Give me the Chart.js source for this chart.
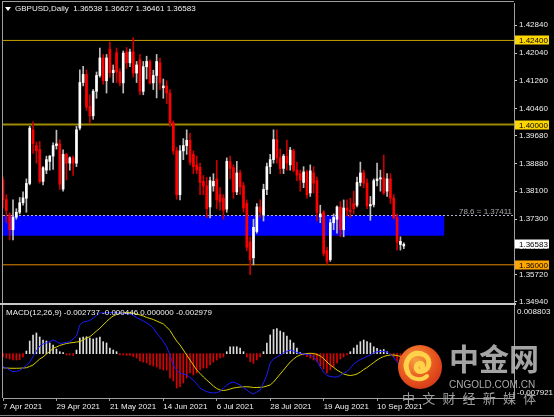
<!DOCTYPE html>
<html>
<head>
<meta charset="utf-8">
<script src="https://cdn.jsdelivr.net/npm/chart.js@4.4.1/dist/chart.umd.min.js"></script>
<style>
html,body{margin:0;padding:0;background:#000;}
#wrap{position:relative;width:554px;height:417px;overflow:hidden;background:#000}
#c{position:absolute;left:0;top:0}
.txt{position:absolute;white-space:pre;font-family:"Liberation Sans",Arial,sans-serif;font-size:8px;line-height:10px;color:#f0f0f0}
#tri{position:absolute;left:5px;top:7px;width:0;height:0;border-left:3px solid transparent;border-right:3px solid transparent;border-top:4px solid #fff}
#wm1{position:absolute;left:449px;top:337px;font-family:"Noto Sans CJK SC",sans-serif;font-weight:bold;font-size:30px;line-height:40px;color:rgba(178,178,178,0.92);white-space:pre}
#wm2{position:absolute;left:449px;top:379px;font-family:"Liberation Sans",Arial,sans-serif;font-size:10px;line-height:12px;color:rgba(185,185,185,0.92);white-space:pre}
#wm3{position:absolute;left:402px;top:390px;font-family:"Noto Sans CJK SC",sans-serif;font-size:13px;line-height:16px;letter-spacing:7.2px;color:rgba(170,170,170,0.92);white-space:pre}
#logo{position:absolute;left:396px;top:343px}
</style>
</head>
<body>
<div id="wrap">
<canvas id="c" width="554" height="417"></canvas>
<div id="tri"></div>
<div class="txt" style="left:15px;top:4px">GBPUSD,Daily  1.36538 1.36627 1.36461 1.36583</div>
<div class="txt" style="left:6px;top:308px">MACD(12,26,9) -0.002737 -0.000446 0.000000 -0.002979</div>
<svg id="logo" width="48" height="48" viewBox="0 0 48 48">
<defs><radialGradient id="g" cx="40%" cy="35%" r="70%"><stop offset="0%" stop-color="#f6a040"/><stop offset="60%" stop-color="#e8561f"/><stop offset="100%" stop-color="#d43818"/></radialGradient></defs>
<circle cx="24" cy="24" r="22" fill="url(#g)"/>
<path d="M12 30 C 6 18, 16 8, 26 11 C 35 14, 35 26, 27 28 C 21 30, 18 24, 22 21 C 25 19, 28 22, 26 24" fill="none" stroke="#ffd24a" stroke-width="5" stroke-linecap="round"/>
<path d="M12 30 C 16 37, 26 38, 31 33" fill="none" stroke="#ffd24a" stroke-width="4" stroke-linecap="round"/>
</svg>
<div id="wm1">中金网</div>
<div id="wm2">CNGOLD.COM.CN</div>
<div id="wm3">中文财经新媒体</div>
</div>
<script>
// ---------- data ----------
const dates = [
'7 Apr 2021','8 Apr 2021','9 Apr 2021','12 Apr 2021','13 Apr 2021','14 Apr 2021','15 Apr 2021','16 Apr 2021','19 Apr 2021','20 Apr 2021',
'21 Apr 2021','22 Apr 2021','23 Apr 2021','26 Apr 2021','27 Apr 2021','28 Apr 2021','29 Apr 2021','30 Apr 2021',
'3 May 2021','4 May 2021','5 May 2021','6 May 2021','7 May 2021','10 May 2021','11 May 2021','12 May 2021','13 May 2021','14 May 2021',
'17 May 2021','18 May 2021','19 May 2021','20 May 2021','21 May 2021','24 May 2021','25 May 2021','26 May 2021','27 May 2021','28 May 2021','31 May 2021',
'1 Jun 2021','2 Jun 2021','3 Jun 2021','4 Jun 2021','7 Jun 2021','8 Jun 2021','9 Jun 2021','10 Jun 2021','11 Jun 2021','14 Jun 2021','15 Jun 2021',
'16 Jun 2021','17 Jun 2021','18 Jun 2021','21 Jun 2021','22 Jun 2021','23 Jun 2021','24 Jun 2021','25 Jun 2021','28 Jun 2021','29 Jun 2021','30 Jun 2021',
'1 Jul 2021','2 Jul 2021','5 Jul 2021','6 Jul 2021','7 Jul 2021','8 Jul 2021','9 Jul 2021','12 Jul 2021','13 Jul 2021','14 Jul 2021','15 Jul 2021',
'16 Jul 2021','19 Jul 2021','20 Jul 2021','21 Jul 2021','22 Jul 2021','23 Jul 2021','26 Jul 2021','27 Jul 2021','28 Jul 2021','29 Jul 2021','30 Jul 2021',
'2 Aug 2021','3 Aug 2021','4 Aug 2021','5 Aug 2021','6 Aug 2021','9 Aug 2021','10 Aug 2021','11 Aug 2021','12 Aug 2021','13 Aug 2021','16 Aug 2021',
'17 Aug 2021','18 Aug 2021','19 Aug 2021','20 Aug 2021','23 Aug 2021','24 Aug 2021','25 Aug 2021','26 Aug 2021','27 Aug 2021','30 Aug 2021','31 Aug 2021',
'1 Sep 2021','2 Sep 2021','3 Sep 2021','6 Sep 2021','7 Sep 2021','8 Sep 2021','9 Sep 2021','10 Sep 2021','13 Sep 2021','14 Sep 2021','15 Sep 2021',
'16 Sep 2021','17 Sep 2021','20 Sep 2021','21 Sep 2021','22 Sep 2021'];

const open = [1.3842,1.3786,1.3742,1.3700,1.3736,1.3750,1.3777,1.3790,1.3832,1.3985,
1.3940,1.3929,1.3838,1.3870,1.3895,1.3910,1.3940,1.3945,1.3816,1.3915,
1.3890,1.3905,1.3890,1.3990,1.4120,1.4143,1.4052,1.4025,1.4095,1.4140,
1.4190,1.4125,1.4215,1.4148,1.4205,1.4150,1.4119,1.4207,1.4176,1.4207,
1.4147,1.4185,1.4095,1.4165,1.4179,1.4119,1.4140,1.4176,1.4105,1.4110,
1.4090,1.4005,1.3925,1.3800,1.3925,1.3940,1.3955,1.3915,1.3885,1.3878,
1.3838,1.3825,1.3765,1.3825,1.3845,1.3800,1.3790,1.3759,1.3895,1.3877,
1.3808,1.3862,1.3826,1.3775,1.3665,1.3620,1.3695,1.3765,1.3742,1.3815,
1.3880,1.3900,1.3957,1.3905,1.3875,1.3910,1.3885,1.3925,1.3870,1.3860,
1.3835,1.3865,1.3805,1.3862,1.3840,1.3737,1.3750,1.3640,1.3615,1.3720,
1.3730,1.3765,1.3700,1.3762,1.3755,1.3775,1.3770,1.3835,1.3862,1.3833,
1.3768,1.3772,1.3840,1.3845,1.3848,1.3810,1.3845,1.3790,1.3735,1.3658,
1.36538];
const high = [1.3850,1.3800,1.3748,1.3785,1.3760,1.3792,1.3808,1.3845,1.3995,1.4008,
1.3950,1.3952,1.3880,1.3910,1.3912,1.3948,1.3984,1.3957,1.3928,1.3918,
1.3908,1.3911,1.3995,1.4156,1.4166,1.4156,1.4085,1.4100,1.4150,1.4218,
1.4200,1.4200,1.4235,1.4170,1.4218,1.4160,1.4210,1.4220,1.4215,1.4248,
1.4180,1.4200,1.4180,1.4195,1.4185,1.4155,1.4200,1.4190,1.4130,1.4125,
1.4100,1.4010,1.3935,1.3940,1.3960,1.3985,1.3975,1.3925,1.3910,1.3890,
1.3855,1.3850,1.3850,1.3860,1.3898,1.3820,1.3800,1.3905,1.3910,1.3885,
1.3895,1.3870,1.3835,1.3785,1.3680,1.3730,1.3775,1.3785,1.3830,1.3890,
1.3915,1.3985,1.3985,1.3930,1.3915,1.3956,1.3935,1.3930,1.3893,1.3870,
1.3880,1.3870,1.3885,1.3880,1.3850,1.3770,1.3755,1.3650,1.3730,1.3745,
1.3768,1.3780,1.3785,1.3785,1.3790,1.3810,1.3850,1.3893,1.3870,1.3845,
1.3795,1.3845,1.3890,1.3870,1.3913,1.3860,1.3860,1.3800,1.3745,1.3680,
1.36627];
const low = [1.3762,1.3721,1.3671,1.3671,1.3730,1.3745,1.3770,1.3750,1.3828,1.3918,
1.3890,1.3833,1.3828,1.3860,1.3870,1.3872,1.3930,1.3815,1.3810,1.3842,
1.3870,1.3855,1.3880,1.3985,1.4110,1.4040,1.4005,1.4015,1.4075,1.4135,
1.4115,1.4090,1.4135,1.4120,1.4120,1.4110,1.4090,1.4160,1.4165,1.4135,
1.4120,1.4085,1.4085,1.4130,1.4115,1.4100,1.4076,1.4100,1.4075,1.4060,
1.3995,1.3915,1.3787,1.3785,1.3900,1.3915,1.3885,1.3860,1.3860,1.3800,
1.3800,1.3735,1.3734,1.3810,1.3760,1.3756,1.3730,1.3750,1.3845,1.3790,
1.3800,1.3800,1.3750,1.3640,1.3572,1.3600,1.3690,1.3735,1.3725,1.3800,
1.3860,1.3890,1.3890,1.3860,1.3860,1.3870,1.3870,1.3865,1.3840,1.3810,
1.3820,1.3790,1.3795,1.3805,1.3725,1.3720,1.3625,1.3602,1.3610,1.3700,
1.3690,1.3680,1.3680,1.3740,1.3735,1.3745,1.3765,1.3825,1.3820,1.3760,
1.3727,1.3765,1.3825,1.3810,1.3800,1.3795,1.3775,1.3730,1.3642,1.3642,
1.36461];
const close = [1.3786,1.3755,1.3700,1.3736,1.3750,1.3777,1.3791,1.3832,1.3990,1.3946,
1.3925,1.3838,1.3877,1.3900,1.3910,1.3940,1.3945,1.3830,1.3915,1.3890,
1.3905,1.3890,1.3985,1.4120,1.4143,1.4050,1.4025,1.4095,1.4140,1.4190,
1.4125,1.4190,1.4148,1.4155,1.4150,1.4120,1.4204,1.4176,1.4207,1.4147,
1.4170,1.4095,1.4165,1.4180,1.4119,1.4140,1.4180,1.4119,1.4110,1.4090,
1.4005,1.3925,1.3800,1.3925,1.3940,1.3955,1.3893,1.3880,1.3870,1.3835,
1.3825,1.3760,1.3840,1.3838,1.3785,1.3780,1.3755,1.3895,1.3875,1.3808,
1.3862,1.3822,1.3762,1.3650,1.3614,1.3707,1.3765,1.3750,1.3815,1.3880,
1.3900,1.3957,1.3905,1.3875,1.3910,1.3890,1.3927,1.3870,1.3856,1.3842,
1.3865,1.3800,1.3868,1.3833,1.3750,1.3745,1.3632,1.3610,1.3720,1.3735,
1.3765,1.3700,1.3762,1.3755,1.3752,1.3760,1.3835,1.3862,1.3833,1.3768,
1.3772,1.3840,1.3845,1.3848,1.3805,1.3845,1.3790,1.3735,1.3665,1.3667,
1.36583];

// MACD panel: histogram, blue line, yellow line
const macdHist = [-0.00059,-0.00077,-0.00095,-0.00113,-0.00113,-0.00104,-0.00059,0.00048,0.00227,0.00335,
0.00371,0.00299,0.00245,0.00227,0.00192,0.00156,0.00084,0.00036,0.00021,-0.00023,
-0.00023,-0.00032,0.00066,0.00281,0.00299,0.00304,0.00281,0.00263,0.00281,0.00299,
0.00215,0.00192,0.00102,0.00066,0.00036,-0.00023,-0.00023,-0.00032,-0.00032,-0.00054,
-0.00077,-0.00131,-0.00149,-0.00166,-0.00202,-0.00220,-0.00238,-0.00274,-0.00292,-0.00292,
-0.00435,-0.00489,-0.00614,-0.00591,-0.00524,-0.00435,-0.00345,-0.00381,-0.00345,-0.00292,
-0.00256,-0.00256,-0.00202,-0.00149,-0.00113,-0.00077,-0.00059,0.00036,0.00125,0.00125,
0.00125,0.00102,0.00036,-0.00059,-0.00143,-0.00172,-0.00113,-0.00059,0.00036,0.00192,
0.00335,0.00433,0.00451,0.00406,0.00379,0.00317,0.00245,0.00192,0.00102,0.00021,
-0.00023,-0.00054,-0.00077,-0.00113,-0.00143,-0.00220,-0.00274,-0.00345,-0.00292,-0.00238,
-0.00166,-0.00095,-0.00059,-0.00023,0.00036,0.00102,0.00156,0.00215,0.00245,0.00215,
0.00192,0.00125,0.00097,0.00066,0.00075,0.00036,-0.00005,-0.00059,-0.00131,-0.00184,
-0.00220];
const macdBlue = [-0.00233,-0.00256,-0.00292,-0.00322,-0.00318,-0.00301,-0.00256,-0.00211,-0.00149,-0.00054,
0.00048,0.00138,0.00174,0.00192,0.00218,0.00245,0.00218,0.00183,0.00192,0.00200,
0.00215,0.00263,0.00317,0.00514,0.00567,0.00576,0.00594,0.00639,0.00684,0.00729,
0.00732,0.00734,0.00734,0.00734,0.00732,0.00729,0.00723,0.00714,0.00711,0.00684,
0.00643,0.00616,0.00585,0.00550,0.00514,0.00460,0.00371,0.00299,0.00218,0.00125,
-0.00023,-0.00202,-0.00292,-0.00345,-0.00363,-0.00381,-0.00426,-0.00471,-0.00542,-0.00614,
-0.00650,-0.00680,-0.00695,-0.00703,-0.00695,-0.00677,-0.00614,-0.00560,-0.00524,-0.00507,
-0.00533,-0.00560,-0.00605,-0.00650,-0.00695,-0.00721,-0.00686,-0.00650,-0.00524,-0.00381,
-0.00166,-0.00095,-0.00059,-0.00023,0.00013,0.00039,0.00066,0.00048,0.00021,0.00007,
-0.00005,-0.00014,-0.00023,-0.00059,-0.00131,-0.00238,-0.00328,-0.00390,-0.00408,-0.00417,
-0.00417,-0.00390,-0.00345,-0.00322,-0.00256,-0.00184,-0.00140,-0.00104,-0.00077,-0.00050,
-0.00023,0.00013,0.00036,0.00039,0.00039,0.00030,-0.00014,-0.00068,-0.00149,-0.00220,
-0.00274];
const macdYellow = [-0.00251,-0.00256,-0.00260,-0.00261,-0.00261,-0.00260,-0.00256,-0.00251,-0.00229,-0.00202,
-0.00149,-0.00095,-0.00059,-0.00005,0.00039,0.00097,0.00120,0.00147,0.00165,0.00183,
0.00192,0.00200,0.00209,0.00218,0.00245,0.00281,0.00304,0.00353,0.00406,0.00455,
0.00514,0.00576,0.00630,0.00675,0.00702,0.00723,0.00729,0.00734,0.00734,0.00729,
0.00711,0.00693,0.00675,0.00648,0.00630,0.00612,0.00585,0.00558,0.00532,0.00478,
0.00415,0.00317,0.00227,0.00156,0.00066,-0.00023,-0.00113,-0.00202,-0.00292,-0.00354,
-0.00417,-0.00471,-0.00524,-0.00578,-0.00623,-0.00650,-0.00659,-0.00650,-0.00632,-0.00614,
-0.00605,-0.00596,-0.00591,-0.00591,-0.00596,-0.00605,-0.00605,-0.00601,-0.00596,-0.00578,
-0.00560,-0.00507,-0.00435,-0.00363,-0.00292,-0.00220,-0.00149,-0.00095,-0.00050,-0.00023,
-0.00005,0.00004,0.00007,0.00004,-0.00014,-0.00041,-0.00086,-0.00149,-0.00202,-0.00247,
-0.00292,-0.00328,-0.00363,-0.00381,-0.00390,-0.00381,-0.00363,-0.00328,-0.00283,-0.00247,
-0.00202,-0.00158,-0.00113,-0.00077,-0.00050,-0.00032,-0.00023,-0.00023,-0.00032,-0.00050,
-0.00077];

const xTickLabels = ['7 Apr 2021','29 Apr 2021','21 May 2021','14 Jun 2021','6 Jul 2021','28 Jul 2021','19 Aug 2021','10 Sep 2021'];
const priceTicks = [1.42840,1.42040,1.41260,1.40460,1.39680,1.38880,1.38100,1.37300,1.36520,1.35720,1.34940];
const macdTickText = ['0.008803','-0.007921'];
const levelValues = [1.42400,1.40000,1.36000];
const lastPrice = 1.36583;
const fibValue = 1.37411;
const fibText = '78.6 = 1.37411';
const zoneTop = 1.37411, zoneBottom = 1.36830;
const zoneFromBar = -5, zoneToBar = 132.1;

// ---------- styles ----------
const FONT = '"Liberation Sans", Arial, sans-serif';
const levelColors = ['#c8a200','#a08a00','#e88600'];
const levelWidths = [1,2,1];
const levelBoxColors = ['#ffd700','#ffd700','#ffa500'];
const bull = close.map((c,i)=>c>=open[i]);
const noPad = (s)=>{ s.paddingTop = 0; s.paddingBottom = 0; s.paddingLeft = 0; s.paddingRight = 0; };

const mt4 = {
  id:'mt4',
  beforeDatasetsDraw(chart){
    const {ctx, chartArea:a, scales:{x,y}} = chart;
    ctx.save();
    ctx.beginPath(); ctx.rect(a.left, y.top, a.right-a.left, y.bottom-y.top); ctx.clip();
    const zx0 = x.getPixelForValue(zoneFromBar), zx1 = x.getPixelForValue(zoneToBar);
    const zy0 = y.getPixelForValue(zoneTop), zy1 = y.getPixelForValue(zoneBottom);
    ctx.fillStyle = '#0000ff';
    ctx.fillRect(zx0, zy0, zx1-zx0, zy1-zy0);
    levelValues.forEach((v,k)=>{
      const py = y.getPixelForValue(v);
      ctx.strokeStyle = levelColors[k]; ctx.lineWidth = levelWidths[k];
      ctx.beginPath(); ctx.moveTo(a.left, py); ctx.lineTo(a.right, py); ctx.stroke();
    });
    const fy = Math.round(y.getPixelForValue(fibValue))+0.5;
    ctx.setLineDash([2,2]); ctx.strokeStyle = '#b4b4c8'; ctx.lineWidth = 1;
    ctx.beginPath(); ctx.moveTo(a.left, fy); ctx.lineTo(a.right, fy); ctx.stroke();
    ctx.setLineDash([]);
    ctx.fillStyle = '#a8a8a8'; ctx.font = '8px '+FONT; ctx.textAlign='right'; ctx.textBaseline='alphabetic';
    ctx.fillText(fibText, a.right-2, fy-2);
    ctx.restore();
  },
  afterDraw(chart){
    const {ctx, chartArea:a, scales:{y,y2}} = chart;
    ctx.save();
    ctx.strokeStyle = '#a0a0a0'; ctx.lineWidth = 1;
    ctx.beginPath(); ctx.moveTo(2, 1.5); ctx.lineTo(a.right, 1.5); ctx.stroke();
    ctx.beginPath(); ctx.moveTo(2.5, 1); ctx.lineTo(2.5, a.bottom); ctx.stroke();
    ctx.strokeStyle = '#c8c8c8'; ctx.lineWidth = 2;
    ctx.beginPath(); ctx.moveTo(0, y.bottom+1); ctx.lineTo(a.right+2, y.bottom+1); ctx.stroke();
    ctx.strokeStyle = '#808080'; ctx.lineWidth = 1;
    ctx.beginPath(); ctx.moveTo(0, 415.5); ctx.lineTo(554, 415.5); ctx.stroke();
    const boxes = [
      {v:levelValues[0], bg:levelBoxColors[0]},
      {v:levelValues[1], bg:levelBoxColors[1]},
      {v:lastPrice, bg:'#ffffff'},
      {v:levelValues[2], bg:levelBoxColors[2]}
    ];
    ctx.font = '8px '+FONT; ctx.textAlign='left'; ctx.textBaseline='middle';
    boxes.forEach(b=>{
      const py = Math.round(y.getPixelForValue(b.v));
      ctx.fillStyle = b.bg; ctx.fillRect(a.right+1, py-4.5, 34, 9);
      ctx.fillStyle = '#000'; ctx.fillText(b.v.toFixed(5), a.right+5, py+0.5);
    });
    ctx.restore();
  }
};

const ctx = document.getElementById('c').getContext('2d');
new Chart(ctx, {
  type:'bar',
  data:{
    datasets:[
      {type:'bar', label:'body', order:1, yAxisID:'y', grouped:false, barThickness:2, minBarLength:1,
       data: open.map((o,i)=>({x:i, y:[Math.min(o,close[i]), Math.max(o,close[i])]})),
       backgroundColor: bull.map(b=>b?'#ffffff':'#ff0000'), borderWidth:0},
      {type:'bar', label:'wick', order:2, yAxisID:'y', grouped:false, barThickness:1,
       data: low.map((l,i)=>({x:i, y:[l, high[i]]})),
       backgroundColor: bull.map(b=>b?'#bdbdbd':'#c80000'), borderWidth:0},
      {type:'line', label:'blue', order:0, yAxisID:'y2', data: macdBlue.map((v,i)=>({x:i,y:v})),
       borderColor:'#1a1aff', borderWidth:1, pointRadius:0, tension:0},
      {type:'line', label:'yellow', order:0, yAxisID:'y2', data: macdYellow.map((v,i)=>({x:i,y:v})),
       borderColor:'#d8d000', borderWidth:1, pointRadius:0, tension:0},
      {type:'bar', label:'hist', order:3, yAxisID:'y2', grouped:false, barThickness:1,
       data: macdHist.map((v,i)=>({x:i,y:v})),
       backgroundColor: macdHist.map(v=>v>=0?'#dcdcdc':'#e00000'), borderWidth:0}
    ]
  },
  options:{
    responsive:false, animation:false, devicePixelRatio:1,
    layout:{padding:{left:3, top:3, right:0, bottom:0}},
    plugins:{legend:{display:false}, tooltip:{enabled:false}, title:{display:false}},
    scales:{
      x:{type:'linear', min:0, max:153, offset:false, position:'bottom',
         grid:{drawOnChartArea:false, tickLength:3, color:'#a0a0a0', offset:false},
         border:{color:'#a0a0a0'},
         ticks:{autoSkip:false, maxRotation:0, align:'start', padding:1, color:'#f0f0f0', font:{family:FONT, size:8},
                callback:(v)=>dates[v] ?? ''},
         afterBuildTicks:(s)=>{ s.ticks = xTickLabels.map(l=>({value:dates.indexOf(l)})); },
         afterFit:(s)=>{ s.height = 19; noPad(s); }},
      y:{type:'linear', position:'right', stack:'panes', stackWeight:300, offset:false,
         min:1.349108, max:1.434675,
         grid:{drawOnChartArea:false, tickLength:3, color:'#c8c8c8'},
         border:{color:'#a0a0a0'},
         ticks:{autoSkip:false, padding:2, color:'#f0f0f0', font:{family:FONT, size:8},
                callback:(v)=>Number(v).toFixed(5)},
         afterBuildTicks:(s)=>{ s.ticks = priceTicks.map(v=>({value:v})); },
         afterFit:(s)=>{ s.width = 40; noPad(s); }},
      y2:{type:'linear', position:'right', stack:'panes', stackWeight:95, offset:false,
         min:-0.007925, max:0.00907,
         grid:{drawOnChartArea:false, drawTicks:false},
         border:{color:'#a0a0a0'},
         ticks:{autoSkip:false, padding:3, color:'#f0f0f0', font:{family:FONT, size:8},
                callback:(v,i)=>macdTickText[i] ?? ''},
         afterBuildTicks:(s)=>{
           const r = s.max - s.min;
           s.ticks = [{value: s.max - r*8.5/95}, {value: s.min + r*5.3/95}];
         },
         afterFit:(s)=>{ s.width = 40; noPad(s); }}
    }
  },
  plugins:[mt4]
});
</script>
</body>
</html>
